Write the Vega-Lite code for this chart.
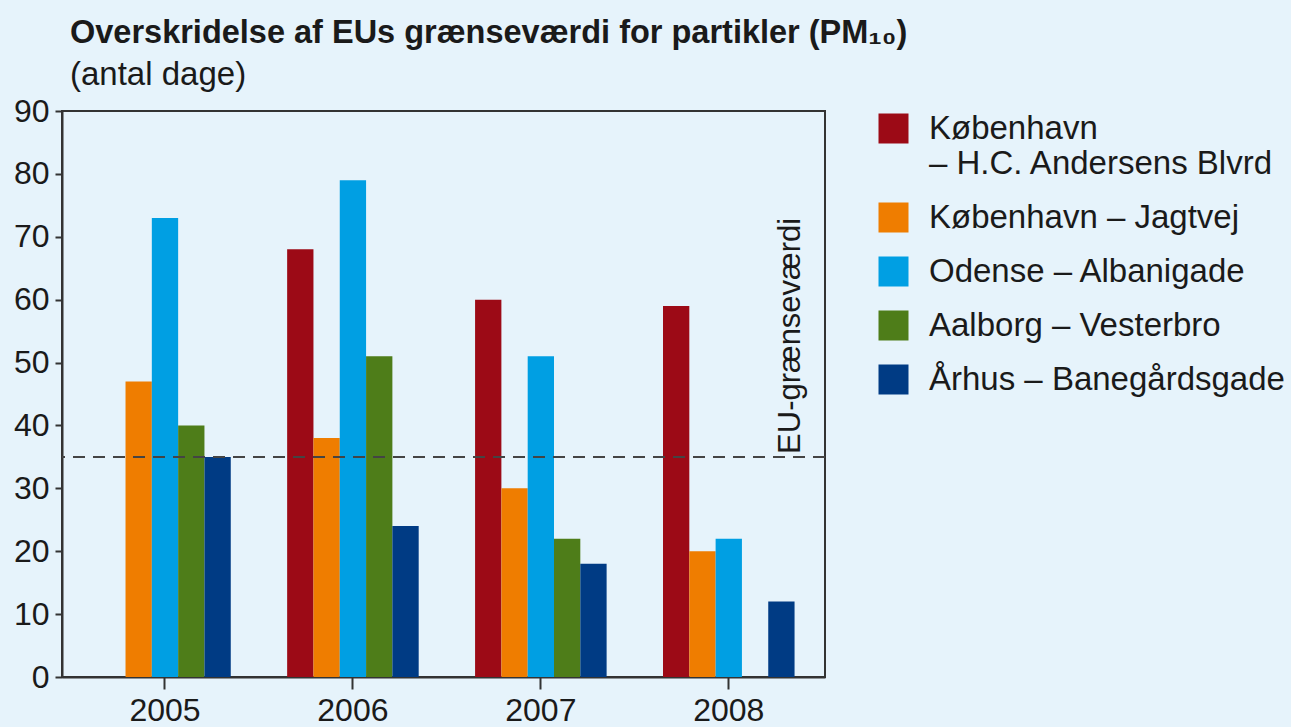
{
  "$schema": "https://vega.github.io/schema/vega-lite/v6.json",
  "width": 763,
  "height": 566,
  "autosize": {"type": "none"},
  "padding": {"left": 62, "top": 111, "right": 466, "bottom": 50},
  "background": "#e6f3fb",
  "config": {
    "view": {"stroke": "#333333", "strokeWidth": 2},
    "font": "Liberation Sans",
    "axis": {
      "domainColor": "#333333",
      "domainWidth": 2,
      "tickColor": "#333333",
      "tickWidth": 2,
      "labelColor": "#1a1a1a",
      "labelFont": "Liberation Sans",
      "labelFontSize": 32,
      "grid": false,
      "title": null
    }
  },
  "title": {
    "text": "Overskridelse af EUs grænseværdi for partikler (PM₁₀)",
    "subtitle": "(antal dage)",
    "anchor": "start",
    "frame": "group",
    "font": "Liberation Sans",
    "fontSize": 32.5,
    "fontWeight": "bold",
    "color": "#1a1a1a",
    "subtitleFont": "Liberation Sans",
    "subtitleFontSize": 33,
    "subtitleColor": "#1a1a1a",
    "subtitlePadding": 10,
    "offset": 3,
    "dx": 8
  },
  "datasets": {
    "pm": [
      {"year": "2005", "station": "København – Jagtvej", "days": 47},
      {"year": "2005", "station": "Odense – Albanigade", "days": 73},
      {"year": "2005", "station": "Aalborg – Vesterbro", "days": 40},
      {"year": "2005", "station": "Århus – Banegårdsgade", "days": 35},
      {"year": "2006", "station": "København – H.C. Andersens Blvrd", "days": 68},
      {"year": "2006", "station": "København – Jagtvej", "days": 38},
      {"year": "2006", "station": "Odense – Albanigade", "days": 79},
      {"year": "2006", "station": "Aalborg – Vesterbro", "days": 51},
      {"year": "2006", "station": "Århus – Banegårdsgade", "days": 24},
      {"year": "2007", "station": "København – H.C. Andersens Blvrd", "days": 60},
      {"year": "2007", "station": "København – Jagtvej", "days": 30},
      {"year": "2007", "station": "Odense – Albanigade", "days": 51},
      {"year": "2007", "station": "Aalborg – Vesterbro", "days": 22},
      {"year": "2007", "station": "Århus – Banegårdsgade", "days": 18},
      {"year": "2008", "station": "København – H.C. Andersens Blvrd", "days": 59},
      {"year": "2008", "station": "København – Jagtvej", "days": 20},
      {"year": "2008", "station": "Odense – Albanigade", "days": 22},
      {"year": "2008", "station": "Århus – Banegårdsgade", "days": 12}
    ],
    "limit": [
      {"year": "2008", "limit": 35, "label": "EU-grænseværdi"}
    ]
  },
  "layer": [
    {
      "data": {"name": "pm"},
      "mark": {"type": "bar"},
      "encoding": {
        "x": {
          "field": "year",
          "type": "nominal",
          "scale": {"paddingInner": 0.3, "paddingOuter": 0.18, "align": 0.55},
          "axis": {"labelAngle": 0, "tickSize": 12, "labelPadding": 6, "domain": true}
        },
        "xOffset": {
          "field": "station",
          "type": "nominal",
          "scale": {
            "domain": ["København – H.C. Andersens Blvrd", "København – Jagtvej", "Odense – Albanigade", "Aalborg – Vesterbro", "Århus – Banegårdsgade"],
            "paddingInner": 0,
            "paddingOuter": 0
          }
        },
        "y": {
          "field": "days",
          "type": "quantitative",
          "scale": {"domain": [0, 90], "nice": false},
          "axis": {"values": [0, 10, 20, 30, 40, 50, 60, 70, 80, 90], "tickSize": 7, "labelPadding": 6}
        },
        "color": {
          "field": "station",
          "type": "nominal",
          "scale": {
            "domain": ["København – H.C. Andersens Blvrd", "København – Jagtvej", "Odense – Albanigade", "Aalborg – Vesterbro", "Århus – Banegårdsgade"],
            "range": ["#9c0a16", "#ef7d00", "#009fe3", "#4e7d19", "#003b84"]
          },
          "legend": {
            "title": null,
            "orient": "none",
            "legendX": 815,
            "legendY": 1,
            "symbolType": "square",
            "symbolSize": 900,
            "symbolStrokeWidth": 0,
            "symbolOpacity": 1,
            "labelFont": "Liberation Sans",
            "labelFontSize": 33,
            "labelColor": "#1a1a1a",
            "labelLimit": 500,
            "labelOffset": 19,
            "labelBaseline": "middle",
            "rowPadding": 20,
            "labelExpr": "datum.label === 'København – H.C. Andersens Blvrd' ? ['København', '– H.C. Andersens Blvrd'] : datum.label"
          }
        }
      }
    },
    {
      "data": {"name": "limit"},
      "mark": {"type": "rule", "color": "#444444", "strokeWidth": 2, "strokeDash": [12, 8]},
      "encoding": {"y": {"field": "limit", "type": "quantitative"}}
    },
    {
      "data": {"name": "limit"},
      "mark": {"type": "text", "angle": 270, "align": "left", "baseline": "middle", "fontSize": 31, "font": "Liberation Sans", "color": "#1a1a1a", "dx": 3},
      "encoding": {
        "x": {"field": "year", "type": "nominal", "bandPosition": 0.97},
        "y": {"field": "limit", "type": "quantitative"},
        "text": {"field": "label"}
      }
    }
  ]
}
